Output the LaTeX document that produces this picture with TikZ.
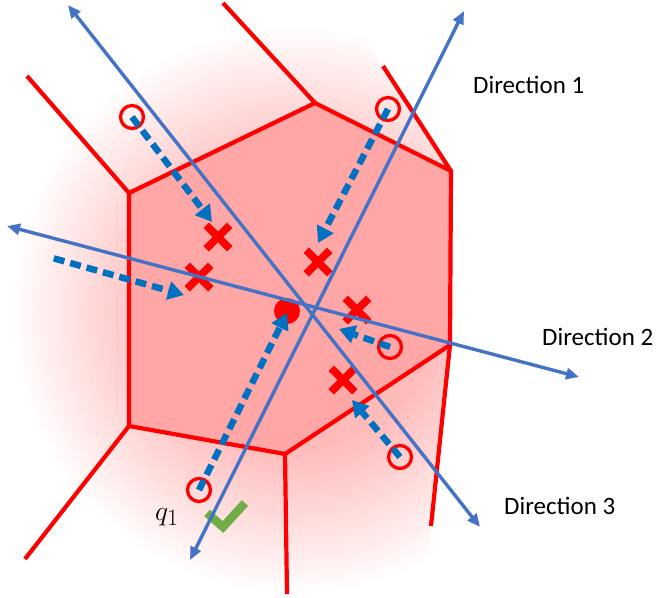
\documentclass[tikz,border=0pt]{standalone}
\usepackage{fontspec}
\setmainfont{Carlito}
\usetikzlibrary{arrows.meta,shapes.misc}
\definecolor{edgered}{RGB}{255,0,0}
\definecolor{cellpink}{RGB}{255,166,166}
\definecolor{outpink}{RGB}{255,186,186}
\definecolor{dirblue}{RGB}{68,114,196}
\definecolor{arrblue}{RGB}{0,112,192}
\definecolor{checkgreen}{RGB}{112,173,71}
\pgfdeclareradialshading{cellfade}{\pgfpoint{0bp}{0bp}}{color(0bp)=(outpink); color(12bp)=(outpink); color(25bp)=(white); color(50bp)=(white)}
\begin{document}
\begin{tikzpicture}[x=1pt,y=-1pt,
  celledge/.style={draw=edgered, line width=4.2pt},
  sample/.style={circle, draw=edgered, line width=3.3pt, minimum size=23pt, inner sep=0pt},
  xmark/.style={cross out, draw=edgered, line width=7.5pt, minimum size=16pt, inner sep=0pt},
  flow/.style={draw=arrblue, line width=6.5pt, dash pattern=on 11pt off 6pt, -{Triangle[length=16pt,width=18pt]}},
  dirline/.style={draw=dirblue, line width=3.4pt, {Triangle[length=13pt,width=11pt]}-{Triangle[length=13pt,width=11pt]}},
  lbl/.style={anchor=base west, inner sep=0pt, font=\fontsize{25}{30}\selectfont}]
\useasboundingbox (0,0) rectangle (657,598);
% soft outer cells
\begin{scope}
\clip (0,0) -- (340,0) -- (383,66) -- (451,171) -- (450,345) -- (431,526) -- (423,598) -- (0,598) -- cycle;
\shade[shading=cellfade] (295,310) circle[radius=285pt];
\end{scope}
% central cell
\coordinate (v1) at (315,103);
\coordinate (v2) at (451,171);
\coordinate (v3) at (450,345);
\coordinate (v4) at (285,454);
\coordinate (v5) at (129,426);
\coordinate (v6) at (129,193);
\fill[cellpink] (v1) -- (v2) -- (v3) -- (v4) -- (v5) -- (v6) -- cycle;
\draw[celledge] (v1) -- (v2) -- (v3) -- (v4) -- (v5) -- (v6) -- cycle;
\coordinate (o1) at (223,3);
\coordinate (o2) at (383,66);
\coordinate (o3) at (431,526);
\coordinate (o4) at (287,594);
\coordinate (o5) at (25,559);
\coordinate (o6) at (27,76);
\draw[celledge] (v1) -- (o1);
\draw[celledge] (v2) -- (o2);
\draw[celledge] (v3) -- (o3);
\draw[celledge] (v4) -- (o4);
\draw[celledge] (v5) -- (o5);
\draw[celledge] (v6) -- (o6);
% crosses
\node[xmark] (x1) at (218,237) {};
\node[xmark] (x2) at (199,277) {};
\node[xmark] (x3) at (318,262) {};
\node[xmark] (x4) at (357,310) {};
\node[xmark] (x5) at (343,380) {};
% check mark
\draw[checkgreen, line width=8.5pt] (207,513) -- (223,527) -- (245,503);
% samples
\node[sample] (s1) at (132,117) {};
\node[sample] (s2) at (388,109) {};
\node[sample] (s3) at (390,347) {};
\node[sample] (s4) at (400,457) {};
\node[sample] (s5) at (199,490) {};
\node[circle, fill=edgered, minimum size=26pt, inner sep=0pt] (q) at (287,311) {};
% dashed arrows
\coordinate (t1) at (212,222);
\coordinate (t2) at (318,243);
\coordinate (t3a) at (49,257);
\coordinate (t3) at (184,295);
\coordinate (t4) at (339,329);
\coordinate (t5) at (352,400);
\coordinate (tq) at (287,313);
\draw[flow] (s1.center) -- (t1);
\draw[flow] (s2.center) -- (t2);
\draw[flow, dash phase=12pt] (t3a) -- (t3);
\draw[flow] (s3.center) -- (t4);
\draw[flow] (s4.center) -- (t5);
\draw[flow] (s5.center) -- (tq);
% directions
\coordinate (d1a) at (190,560);
\coordinate (d1b) at (464,11);
\coordinate (d2a) at (7,226);
\coordinate (d2b) at (579,377);
\coordinate (d3a) at (68,5);
\coordinate (d3b) at (480,527);
\draw[dirline] (d1a) -- (d1b);
\draw[dirline] (d2a) -- (d2b);
\draw[dirline] (d3a) -- (d3b);
% labels
\node[lbl] (l1) at (473,93) {Direction 1};
\node[lbl] (l2) at (542,345) {Direction 2};
\node[lbl] (l3) at (504,514) {Direction 3};
\node[anchor=base west, inner sep=0pt, scale=1.12, font=\Huge] (ql) at (155,520) {$q_1$};
\end{tikzpicture}
\end{document}
